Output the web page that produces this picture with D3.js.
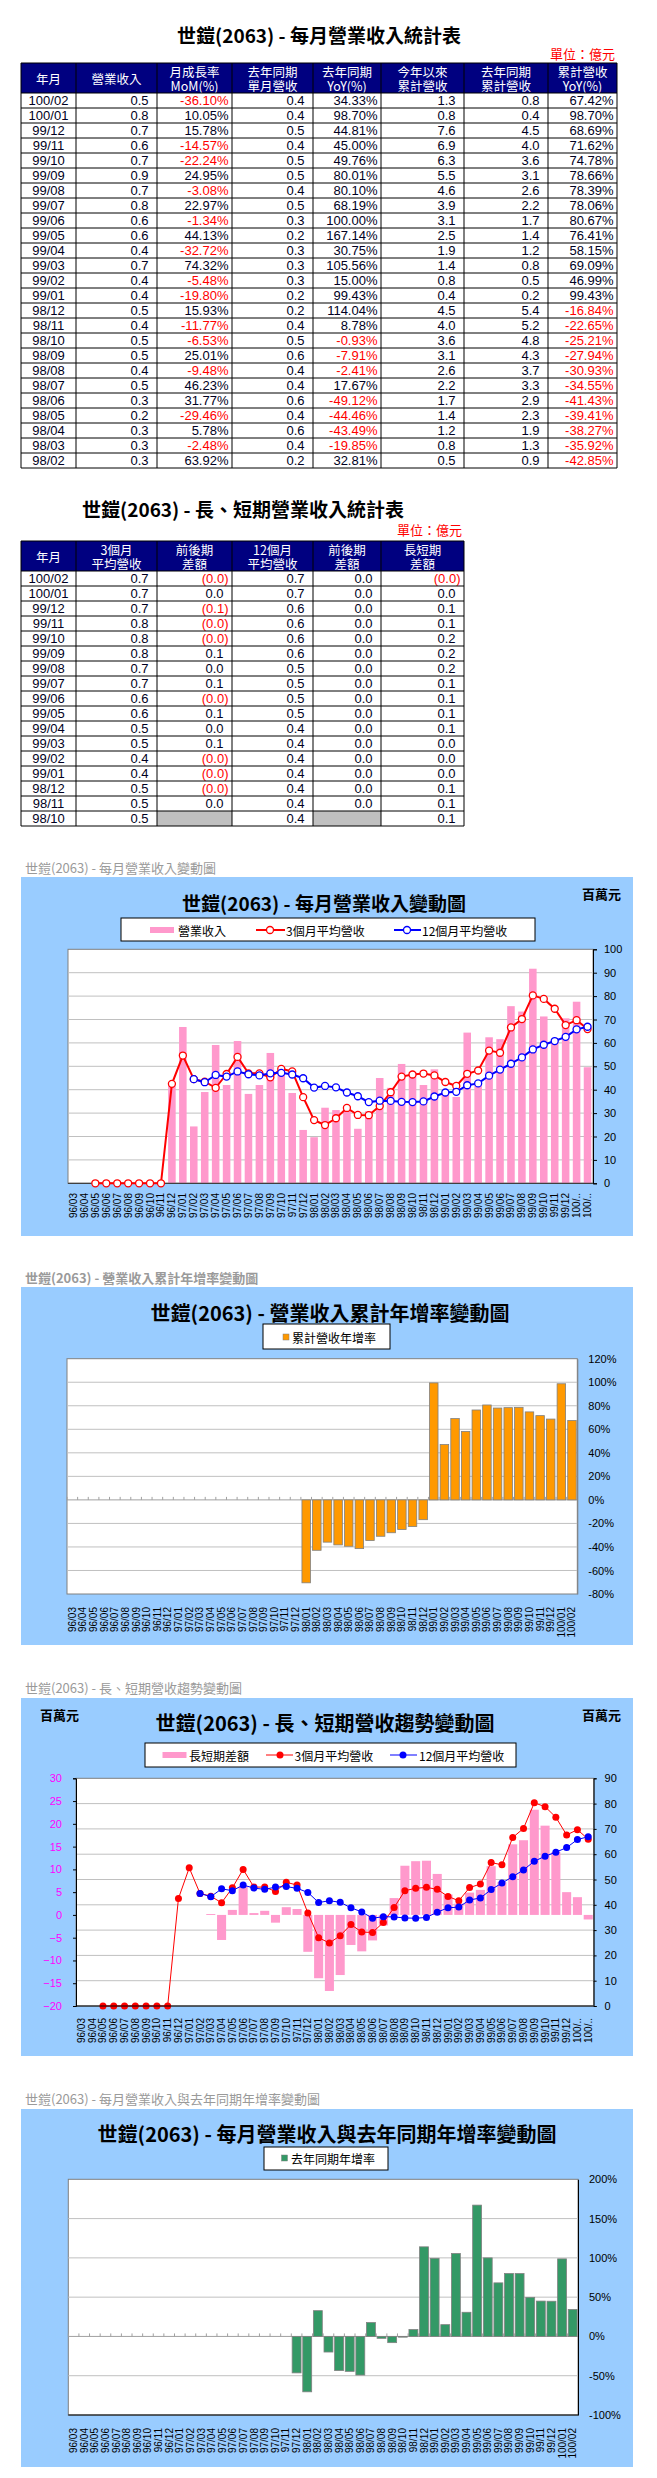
<!DOCTYPE html>
<html><head><meta charset="utf-8"><title>世鎧(2063)</title>
<script src="https://cdn.jsdelivr.net/npm/d3@7/dist/d3.min.js"></script>
<style>html,body{margin:0;padding:0;background:#fff;}svg{display:block;}</style>
</head><body>
<svg id="page" width="657" height="2478"></svg>
<script>
// ---------------- DATA ----------------
const months = ["96/03","96/04","96/05","96/06","96/07","96/08","96/09","96/10","96/11","96/12",
"97/01","97/02","97/03","97/04","97/05","97/06","97/07","97/08","97/09","97/10","97/11","97/12",
"98/01","98/02","98/03","98/04","98/05","98/06","98/07","98/08","98/09","98/10","98/11","98/12",
"99/01","99/02","99/03","99/04","99/05","99/06","99/07","99/08","99/09","99/10","99/11","99/12",
"100/01","100/02"];
// 營業收入 (百萬元)
const revenue = [0,0,0,0,0,0,0,0,0,42.5,66.8,24.3,39.0,59.1,42.0,60.8,38.2,42.0,55.7,49.0,38.6,22.8,
19.7,32.3,31.3,33.1,23.3,30.8,45.0,40.8,51.0,47.6,42.0,48.7,39.1,36.9,64.4,43.3,62.4,61.6,75.7,73.4,
91.7,71.3,60.9,70.5,77.6,49.6];
// 3個月平均營收
const avg3 = [null,null,0,0,0,0,0,0,0,42.5,54.6,44.5,43.4,40.8,46.7,54.0,47.0,47.0,45.3,48.9,47.8,36.8,
27.0,24.9,27.8,32.2,29.2,29.1,33.0,38.9,45.6,46.5,46.9,46.1,43.3,41.6,46.8,48.2,56.7,55.8,66.6,70.2,
80.3,78.8,74.6,67.6,69.7,65.9];
// 12個月平均營收
const avg12 = [null,null,null,null,null,null,null,null,null,null,null,44.5,43.2,46.3,45.6,47.8,46.6,46.1,
47.0,47.2,46.5,44.9,40.9,41.6,41.0,38.8,37.2,34.7,35.3,35.2,34.8,34.7,35.0,37.1,38.8,39.1,41.9,42.7,
46.0,48.6,51.1,53.8,57.2,59.2,60.8,62.6,65.8,66.9];
// 長短期差額
const longShortDiff = [null,null,null,null,null,null,null,null,null,null,null,0.0,0.2,-5.5,1.1,6.2,0.4,0.9,
-1.7,1.7,1.3,-8.1,-13.9,-16.7,-13.2,-6.6,-8.0,-5.6,-2.3,3.7,10.8,11.8,11.9,9.0,4.5,2.5,4.9,5.5,10.7,
7.2,15.5,16.4,23.1,19.6,13.8,5.0,3.9,-1.0];
// 累計營收年增率 (%)
const cumYoY = [null,null,null,null,null,null,null,null,null,null,null,null,null,null,null,null,null,null,
null,null,null,null,-70.5,-42.85,-35.92,-38.27,-39.41,-41.43,-34.55,-30.93,-27.94,-25.21,-22.65,-16.84,
99.43,46.99,69.09,58.15,76.41,80.67,78.06,78.39,78.66,74.78,71.62,68.69,98.70,67.42];
// 去年同期年增率 (%)
const monthYoY = [null,null,null,null,null,null,null,null,null,null,null,null,null,null,null,null,null,null,
null,null,null,-46.4,-70.5,32.81,-19.85,-43.49,-44.46,-49.12,17.67,-2.41,-7.91,-0.93,8.78,114.04,
99.43,15.00,105.56,30.75,167.14,100.00,68.19,80.10,80.01,49.76,45.00,44.81,98.70,34.33];

// Table 1 (億元)
const t1Month = ["100/02","100/01","99/12","99/11","99/10","99/09","99/08","99/07","99/06","99/05","99/04",
"99/03","99/02","99/01","98/12","98/11","98/10","98/09","98/08","98/07","98/06","98/05","98/04","98/03","98/02"];
const t1Rev = [0.5,0.8,0.7,0.6,0.7,0.9,0.7,0.8,0.6,0.6,0.4,0.7,0.4,0.4,0.5,0.4,0.5,0.5,0.4,0.5,0.3,0.2,0.3,0.3,0.3];
const t1MoM = [-36.10,10.05,15.78,-14.57,-22.24,24.95,-3.08,22.97,-1.34,44.13,-32.72,74.32,-5.48,-19.80,
15.93,-11.77,-6.53,25.01,-9.48,46.23,31.77,-29.46,5.78,-2.48,63.92];
const t1LastYearRev = [0.4,0.4,0.5,0.4,0.5,0.5,0.4,0.5,0.3,0.2,0.3,0.3,0.3,0.2,0.2,0.4,0.5,0.6,0.4,0.4,0.6,0.4,0.6,0.4,0.2];
const t1YoY = [34.33,98.70,44.81,45.00,49.76,80.01,80.10,68.19,100.00,167.14,30.75,105.56,15.00,99.43,
114.04,8.78,-0.93,-7.91,-2.41,17.67,-49.12,-44.46,-43.49,-19.85,32.81];
const t1Cum = [1.3,0.8,7.6,6.9,6.3,5.5,4.6,3.9,3.1,2.5,1.9,1.4,0.8,0.4,4.5,4.0,3.6,3.1,2.6,2.2,1.7,1.4,1.2,0.8,0.5];
const t1LastYearCum = [0.8,0.4,4.5,4.0,3.6,3.1,2.6,2.2,1.7,1.4,1.2,0.8,0.5,0.2,5.4,5.2,4.8,4.3,3.7,3.3,2.9,2.3,1.9,1.3,0.9];
const t1CumYoY = [67.42,98.70,68.69,71.62,74.78,78.66,78.39,78.06,80.67,76.41,58.15,69.09,46.99,99.43,
-16.84,-22.65,-25.21,-27.94,-30.93,-34.55,-41.43,-39.41,-38.27,-35.92,-42.85];
const t1Headers = [["年月"],["營業收入"],["月成長率","MoM(%)"],["去年同期","單月營收"],["去年同期","YoY(%)"],
["今年以來","累計營收"],["去年同期","累計營收"],["累計營收","YoY(%)"]];

// Table 2 (億元)
const t2Month = ["100/02","100/01","99/12","99/11","99/10","99/09","99/08","99/07","99/06","99/05","99/04",
"99/03","99/02","99/01","98/12","98/11","98/10"];
const t2Avg3 = [0.7,0.7,0.7,0.8,0.8,0.8,0.7,0.7,0.6,0.6,0.5,0.5,0.4,0.4,0.5,0.5,0.5];
const t2Diff3 = [-0.04,0.02,-0.07,-0.04,-0.02,0.1,0.04,0.11,-0.01,0.09,0.01,0.06,-0.02,-0.03,-0.01,0.0,null];
const t2Avg12 = [0.7,0.7,0.6,0.6,0.6,0.6,0.5,0.5,0.5,0.5,0.4,0.4,0.4,0.4,0.4,0.4,0.4];
const t2Diff12 = [0.01,0.03,0.02,0.02,0.02,0.03,0.03,0.03,0.03,0.03,0.01,0.03,0.0,0.02,0.02,0.0,null];
const t2LongShort = [-0.01,0.04,0.07,0.14,0.2,0.23,0.16,0.15,0.07,0.11,0.06,0.04,0.03,0.04,0.09,0.12,0.11];
const t2Headers = [["年月"],["3個月","平均營收"],["前後期","差額"],["12個月","平均營收"],["前後期","差額"],["長短期","差額"]];

// ---------------- DRAWING ----------------
const svg = d3.select("#page");
const CJK = '"Noto Sans CJK TC","Noto Sans CJK JP","Noto Sans CJK SC",sans-serif';
const LAT = '"Liberation Sans",Arial,sans-serif';

function txt(g, x, y, s, o = {}) {
  const t = g.append("text").attr("x", x).attr("y", y).text(s)
    .attr("font-family", o.font || CJK).attr("font-size", o.size || 13)
    .attr("fill", o.fill || "#000").attr("text-anchor", o.anchor || "start")
    .attr("dominant-baseline", "central");
  if (o.weight) t.attr("font-weight", o.weight);
  return t;
}

const fMonth = v => ({ s: v, center: true });
const fNum = v => ({ s: v.toFixed(1), pad: 8.5 });
const fPct = v => ({ s: v.toFixed(2) + "%", pad: 3.5, red: v < 0 });
const fParen = v => v == null ? { gray: true } :
  (v < 0 ? { s: "(" + Math.abs(v).toFixed(1) + ")", pad: 3.5, red: true } : { s: v.toFixed(1), pad: 8.5 });

function drawTable(o) {
  const g = svg.append("g");
  const E = o.edges, x0 = E[0], x1 = E[E.length - 1];
  const bodyTop = o.top + o.headH, n = o.cols[0].length, bottom = bodyTop + n * o.rowH;
  g.append("rect").attr("x", x0).attr("y", o.top).attr("width", x1 - x0).attr("height", o.headH).attr("fill", "#000080");
  o.headers.forEach((lines, i) => {
    const cx = (E[i] + E[i + 1]) / 2;
    if (lines.length === 1) txt(g, cx, o.top + o.headH / 2, lines[0], { fill: "#fff", anchor: "middle", size: 12.5 });
    else {
      txt(g, cx, o.top + 8, lines[0], { fill: "#fff", anchor: "middle", size: 12.5 });
      txt(g, cx, o.top + 22.5, lines[1], { fill: "#fff", anchor: "middle", size: 12.5 });
    }
  });
  o.cols.forEach((col, ci) => {
    col.forEach((v, ri) => {
      const yTop = bodyTop + ri * o.rowH;
      const c = o.fmt[ci](v);
      if (c.gray) {
        g.append("rect").attr("x", E[ci]).attr("y", yTop).attr("width", E[ci + 1] - E[ci]).attr("height", o.rowH).attr("fill", "#c0c0c0");
        return;
      }
      g.append("text")
        .attr("x", c.center ? (E[ci] + E[ci + 1]) / 2 : E[ci + 1] - c.pad)
        .attr("y", yTop + o.rowH / 2 + 4.6)
        .attr("text-anchor", c.center ? "middle" : "end")
        .attr("font-family", LAT).attr("font-size", 13)
        .attr("fill", c.red ? "#ff0000" : "#000022").text(c.s);
    });
  });
  const L = g.append("g").attr("stroke", "#000").attr("stroke-width", 1);
  L.append("line").attr("x1", x0).attr("x2", x1).attr("y1", o.top).attr("y2", o.top);
  d3.range(n + 1).forEach(i => L.append("line").attr("x1", x0).attr("x2", x1)
    .attr("y1", bodyTop + i * o.rowH).attr("y2", bodyTop + i * o.rowH));
  E.forEach(e => L.append("line").attr("x1", e).attr("x2", e).attr("y1", o.top).attr("y2", bottom));
}

// Table 1
txt(svg, 319, 34, "世鎧(2063) - 每月營業收入統計表", { anchor: "middle", size: 19, weight: "bold" });
txt(svg, 615, 53, "單位：億元", { anchor: "end", size: 13, fill: "#ff0000" });
drawTable({
  edges: [21, 76, 157, 232, 313, 381, 464, 548, 617], top: 63, headH: 30, rowH: 15,
  headers: t1Headers,
  cols: [t1Month, t1Rev, t1MoM, t1LastYearRev, t1YoY, t1Cum, t1LastYearCum, t1CumYoY],
  fmt: [fMonth, fNum, fPct, fNum, fPct, fNum, fNum, fPct]
});

// Table 2
txt(svg, 243, 508, "世鎧(2063) - 長、短期營業收入統計表", { anchor: "middle", size: 19, weight: "bold" });
txt(svg, 462, 529, "單位：億元", { anchor: "end", size: 13, fill: "#ff0000" });
drawTable({
  edges: [21, 76, 157, 232, 313, 381, 464], top: 541, headH: 30, rowH: 15,
  headers: t2Headers,
  cols: [t2Month, t2Avg3, t2Diff3, t2Avg12, t2Diff12, t2LongShort],
  fmt: [fMonth, fNum, fParen, fNum, fParen, fParen]
});

// ---- chart helpers ----
function bgBox(y, h) { svg.append("rect").attr("x", 21).attr("y", y).attr("width", 612).attr("height", h).attr("fill", "#99ccff"); }
function caption(s, y, bold) { txt(svg, 25, y, s, { fill: "#9a9a9a", size: 13, weight: bold ? "bold" : null }); }
function title(s, cx, cy, size) { txt(svg, cx, cy, s, { anchor: "middle", size: size, weight: "bold" }); }
function legendBox(x, y, w, h) {
  const L = svg.append("g");
  L.append("rect").attr("x", x).attr("y", y).attr("width", w).attr("height", h).attr("fill", "#fff").attr("stroke", "#000").attr("stroke-width", 1);
  return L;
}
function xLabels(x, yTop, trunc) {
  svg.append("g").selectAll("text").data(months).join("text")
    .attr("transform", d => `translate(${x(d) + x.bandwidth() / 2},${yTop}) rotate(-90)`)
    .attr("text-anchor", "end").attr("dominant-baseline", "central")
    .attr("font-family", LAT).attr("font-size", 10).attr("fill", "#000")
    .text(d => (trunc && d.length > 5) ? d.slice(0, 4) + ".." : d);
}
function styleAxis(a, color) {
  a.selectAll("text").attr("font-family", LAT).attr("font-size", 11).attr("fill", color || "#000");
  a.select(".domain").attr("stroke", "#000");
  a.selectAll(".tick line").attr("stroke", "#000");
}
function cx(x, i) { return x(months[i]) + x.bandwidth() / 2; }

// ---- Chart 1: 每月營業收入變動圖 ----
(function () {
  caption("世鎧(2063) - 每月營業收入變動圖", 867, false);
  bgBox(877, 359);
  title("世鎧(2063) - 每月營業收入變動圖", 324, 902, 19);
  txt(svg, 582, 893, "百萬元", { size: 13, weight: "bold" });
  const L = legendBox(121, 918, 414, 23);
  L.append("rect").attr("x", 150).attr("y", 927).attr("width", 24).attr("height", 6).attr("fill", "#ff99cc");
  txt(L, 178, 930, "營業收入", { size: 12 });
  L.append("line").attr("x1", 256).attr("x2", 285).attr("y1", 930).attr("y2", 930).attr("stroke", "#ff0000").attr("stroke-width", 2);
  L.append("circle").attr("cx", 270).attr("cy", 930).attr("r", 3.5).attr("fill", "#fff").attr("stroke", "#ff0000").attr("stroke-width", 1.3);
  txt(L, 286, 930, "3個月平均營收", { size: 12 });
  L.append("line").attr("x1", 394).attr("x2", 421).attr("y1", 930).attr("y2", 930).attr("stroke", "#0000ff").attr("stroke-width", 2);
  L.append("circle").attr("cx", 407).attr("cy", 930).attr("r", 3.5).attr("fill", "#fff").attr("stroke", "#0000ff").attr("stroke-width", 1.3);
  txt(L, 422, 930, "12個月平均營收", { size: 12 });

  const x = d3.scaleBand().domain(months).range([68, 593]).paddingInner(0.31).paddingOuter(0.155);
  const y = d3.scaleLinear().domain([0, 100]).range([1183.3, 949.3]);
  const g = svg.append("g");
  g.append("rect").attr("x", 68).attr("y", 949.3).attr("width", 525).attr("height", 234).attr("fill", "#fff").attr("stroke", "#808080");
  g.selectAll(".grid").data(d3.range(10, 100, 10)).join("line")
    .attr("x1", 68).attr("x2", 593).attr("y1", d => y(d)).attr("y2", d => y(d)).attr("stroke", "#c0c0c0");
  g.selectAll(".bar").data(revenue).join("rect")
    .attr("x", (d, i) => x(months[i])).attr("width", x.bandwidth())
    .attr("y", d => y(d)).attr("height", d => y(0) - y(d)).attr("fill", "#ff99cc");
  g.append("line").attr("x1", 68).attr("x2", 593).attr("y1", y(0)).attr("y2", y(0)).attr("stroke", "#404040").attr("stroke-width", 1.2);
  [[avg3, "#ff0000"], [avg12, "#0000ff"]].forEach(([ser, col]) => {
    const line = d3.line().defined(d => d != null).x((d, i) => cx(x, i)).y(d => y(d));
    g.append("path").datum(ser).attr("d", line).attr("fill", "none").attr("stroke", col).attr("stroke-width", 2);
    g.selectAll(null).data(ser.map((v, i) => [v, i]).filter(p => p[0] != null)).join("circle")
      .attr("cx", p => cx(x, p[1])).attr("cy", p => y(p[0])).attr("r", 3.5)
      .attr("fill", "#fff").attr("stroke", col).attr("stroke-width", 1.3);
  });
  const a = g.append("g").attr("transform", "translate(593,0)")
    .call(d3.axisRight(y).tickValues(d3.range(0, 101, 10)).tickSize(4).tickPadding(7));
  styleAxis(a);
  xLabels(x, 1193, true);
})();

// ---- Chart 2: 營業收入累計年增率變動圖 ----
(function () {
  caption("世鎧(2063) -  營業收入累計年增率變動圖", 1277, true);
  bgBox(1287, 358);
  title("世鎧(2063) -  營業收入累計年增率變動圖", 330, 1312, 20);
  const L = legendBox(263, 1324, 127, 25);
  L.append("rect").attr("x", 283).attr("y", 1334).attr("width", 6).attr("height", 6).attr("fill", "#ff9900").attr("stroke", "#808080").attr("stroke-width", 0.5);
  txt(L, 292, 1337, "累計營收年增率", { size: 12 });

  const x = d3.scaleBand().domain(months).range([67, 577.3]).paddingInner(0.2).paddingOuter(0.1);
  const y = d3.scaleLinear().domain([-80, 120]).range([1594, 1358.7]);
  const g = svg.append("g");
  g.append("rect").attr("x", 67).attr("y", 1358.7).attr("width", 510.3).attr("height", 235.3).attr("fill", "#fff").attr("stroke", "#808080");
  g.selectAll(".grid").data(d3.range(-60, 120, 20).filter(v => v !== 0)).join("line")
    .attr("x1", 67).attr("x2", 577.3).attr("y1", d => y(d)).attr("y2", d => y(d)).attr("stroke", "#c0c0c0");
  g.append("line").attr("x1", 67).attr("x2", 577.3).attr("y1", y(0)).attr("y2", y(0)).attr("stroke", "#a0a0a0");
  g.selectAll(".tk").data(months).join("line")
    .attr("x1", d => x(d) - x.step() * 0.1).attr("x2", d => x(d) - x.step() * 0.1)
    .attr("y1", y(0) - 3).attr("y2", y(0)).attr("stroke", "#a0a0a0");
  g.selectAll(".bar").data(cumYoY.map((v, i) => [v, i]).filter(p => p[0] != null)).join("rect")
    .attr("x", p => x(months[p[1]])).attr("width", x.bandwidth())
    .attr("y", p => Math.min(y(p[0]), y(0))).attr("height", p => Math.abs(y(p[0]) - y(0)))
    .attr("fill", "#ff9900").attr("stroke", "#808080").attr("stroke-width", 0.8);
  const a = g.append("g").attr("transform", "translate(577.3,0)")
    .call(d3.axisRight(y).tickValues(d3.range(-80, 121, 20)).tickSize(0).tickPadding(11).tickFormat(d => d + "%"));
  styleAxis(a);
  a.select(".domain").attr("stroke", "#808080");
  xLabels(x, 1607, false);
})();

// ---- Chart 3: 長、短期營收趨勢變動圖 ----
(function () {
  caption("世鎧(2063) -  長、短期營收趨勢變動圖", 1687, false);
  bgBox(1698, 358);
  title("世鎧(2063) -  長、短期營收趨勢變動圖", 325, 1722, 20);
  txt(svg, 40, 1714, "百萬元", { size: 13, weight: "bold" });
  txt(svg, 582, 1714, "百萬元", { size: 13, weight: "bold" });
  const L = legendBox(145, 1743, 371, 24);
  L.append("rect").attr("x", 162.5).attr("y", 1752).attr("width", 24).attr("height", 6).attr("fill", "#ff99cc");
  txt(L, 189, 1755, "長短期差額", { size: 12 });
  L.append("line").attr("x1", 266).attr("x2", 293).attr("y1", 1755).attr("y2", 1755).attr("stroke", "#ff0000").attr("stroke-width", 1);
  L.append("circle").attr("cx", 280).attr("cy", 1755).attr("r", 3.5).attr("fill", "#ff0000");
  txt(L, 294.5, 1755, "3個月平均營收", { size: 12 });
  L.append("line").attr("x1", 390).attr("x2", 417).attr("y1", 1755).attr("y2", 1755).attr("stroke", "#0000ff").attr("stroke-width", 1);
  L.append("circle").attr("cx", 403).attr("cy", 1755).attr("r", 3.5).attr("fill", "#0000ff");
  txt(L, 419, 1755, "12個月平均營收", { size: 12 });

  const x = d3.scaleBand().domain(months).range([76, 593.6]).paddingInner(0.16).paddingOuter(0.08);
  const yR = d3.scaleLinear().domain([0, 90]).range([2006, 1778.3]);
  const yL = d3.scaleLinear().domain([-20, 30]).range([2006, 1778.3]);
  const g = svg.append("g");
  g.append("rect").attr("x", 76).attr("y", 1778.3).attr("width", 517.6).attr("height", 227.7).attr("fill", "#fff").attr("stroke", "#808080");
  g.selectAll(".grid").data(d3.range(10, 90, 10)).join("line")
    .attr("x1", 76).attr("x2", 593.6).attr("y1", d => yR(d)).attr("y2", d => yR(d)).attr("stroke", "#c0c0c0");
  g.selectAll(".bar").data(longShortDiff.map((v, i) => [v, i]).filter(p => p[0] != null)).join("rect")
    .attr("x", p => x(months[p[1]])).attr("width", x.bandwidth())
    .attr("y", p => Math.min(yL(p[0]), yL(0))).attr("height", p => Math.abs(yL(p[0]) - yL(0)))
    .attr("fill", "#ff99cc");
  [[avg3, "#ff0000"], [avg12, "#0000ff"]].forEach(([ser, col]) => {
    const line = d3.line().defined(d => d != null).x((d, i) => cx(x, i)).y(d => yR(d));
    g.append("path").datum(ser).attr("d", line).attr("fill", "none").attr("stroke", col).attr("stroke-width", 1);
    g.selectAll(null).data(ser.map((v, i) => [v, i]).filter(p => p[0] != null)).join("circle")
      .attr("cx", p => cx(x, p[1])).attr("cy", p => yR(p[0])).attr("r", 3.5).attr("fill", col);
  });
  g.append("line").attr("x1", 76).attr("x2", 593.6).attr("y1", 2006).attr("y2", 2006).attr("stroke", "#000").attr("stroke-width", 1.2);
  const aR = g.append("g").attr("transform", "translate(593.6,0)")
    .call(d3.axisRight(yR).tickValues(d3.range(0, 91, 10)).tickSize(3).tickPadding(8));
  styleAxis(aR);
  const aL = g.append("g").attr("transform", "translate(76,0)")
    .call(d3.axisLeft(yL).tickValues(d3.range(-20, 31, 5)).tickSize(3).tickPadding(11));
  styleAxis(aL, "#ff00ff");
  xLabels(x, 2018, true);
})();

// ---- Chart 4: 每月營業收入與去年同期年增率變動圖 ----
(function () {
  caption("世鎧(2063) -  每月營業收入與去年同期年增率變動圖", 2098, false);
  bgBox(2109, 358);
  title("世鎧(2063) -  每月營業收入與去年同期年增率變動圖", 327, 2133, 20);
  const L = legendBox(264, 2147, 124, 23);
  L.append("rect").attr("x", 281.5).attr("y", 2155).attr("width", 6).attr("height", 6).attr("fill", "#339966").attr("stroke", "#808080").attr("stroke-width", 0.5);
  txt(L, 291, 2158, "去年同期年增率", { size: 12 });

  const x = d3.scaleBand().domain(months).range([68.3, 578]).paddingInner(0.16).paddingOuter(0.08);
  const y = d3.scaleLinear().domain([-100, 200]).range([2415, 2179.3]);
  const g = svg.append("g");
  g.append("rect").attr("x", 68.3).attr("y", 2179.3).attr("width", 509.7).attr("height", 235.7).attr("fill", "#fff").attr("stroke", "#808080");
  g.selectAll(".grid").data([-50, 50, 100, 150]).join("line")
    .attr("x1", 68.3).attr("x2", 578).attr("y1", d => y(d)).attr("y2", d => y(d)).attr("stroke", "#c0c0c0");
  g.append("line").attr("x1", 68.3).attr("x2", 578).attr("y1", y(0)).attr("y2", y(0)).attr("stroke", "#a0a0a0");
  g.selectAll(".tk").data(months).join("line")
    .attr("x1", d => x(d) - x.step() * 0.08).attr("x2", d => x(d) - x.step() * 0.08)
    .attr("y1", y(0) - 3).attr("y2", y(0)).attr("stroke", "#a0a0a0");
  g.selectAll(".bar").data(monthYoY.map((v, i) => [v, i]).filter(p => p[0] != null)).join("rect")
    .attr("x", p => x(months[p[1]])).attr("width", x.bandwidth())
    .attr("y", p => Math.min(y(p[0]), y(0))).attr("height", p => Math.abs(y(p[0]) - y(0)))
    .attr("fill", "#339966").attr("stroke", "#808080").attr("stroke-width", 0.8);
  g.append("line").attr("x1", 68.3).attr("x2", 578).attr("y1", 2415).attr("y2", 2415).attr("stroke", "#000").attr("stroke-width", 1.2);
  const a = g.append("g").attr("transform", "translate(578,0)")
    .call(d3.axisRight(y).tickValues(d3.range(-100, 201, 50)).tickSize(0).tickPadding(11).tickFormat(d => d + "%"));
  styleAxis(a);
  xLabels(x, 2428, false);
})();
</script>
</body></html>
